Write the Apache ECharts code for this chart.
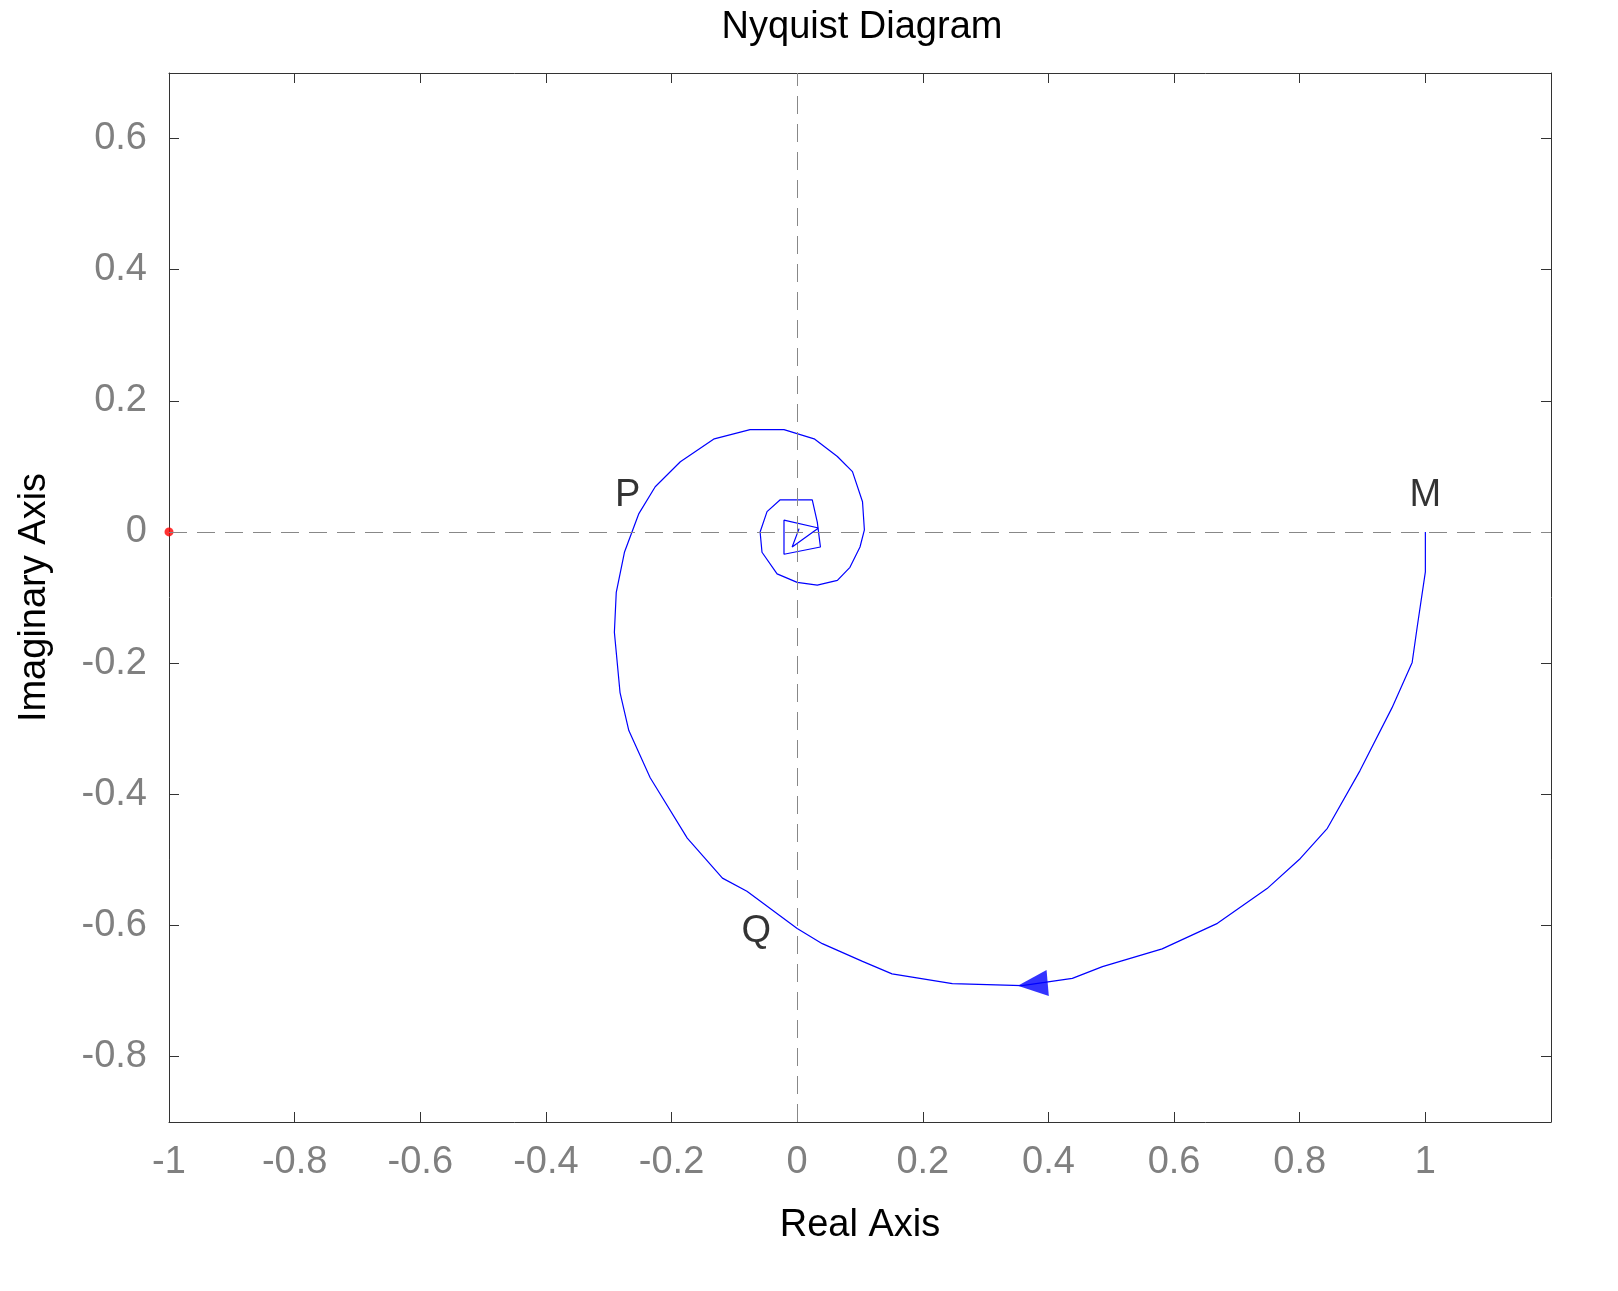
<!DOCTYPE html>
<html>
<head>
<meta charset="utf-8">
<script src="https://cdn.jsdelivr.net/npm/echarts@6/dist/echarts.min.js"></script>
<style>html,body{margin:0;padding:0;background:#fff}#main{width:1618px;height:1291px}</style>
</head>
<body>
<div id="main"></div>
<script>
// Nyquist curve (re, im)
const curveRe = [1, 1, 0.987, 0.979, 0.947, 0.896, 0.844, 0.801, 0.748, 0.669, 0.581, 0.486, 0.438, 0.358, 0.247, 0.151, 0.104, 0.040, 0, -0.080, -0.119, -0.175, -0.234, -0.268, -0.282, -0.291, -0.288, -0.275, -0.252, -0.226, -0.186, -0.132, -0.075, -0.021, 0.027, 0.064, 0.088, 0.104, 0.107, 0.1, 0.084, 0.064, 0.032, 0, -0.032, -0.056, -0.059, -0.048, -0.027, 0.024, 0.032, 0.037, -0.021, -0.021, 0.034, -0.008, 0.003];
const curveIm = [0, -0.061, -0.145, -0.199, -0.268, -0.364, -0.452, -0.498, -0.544, -0.597, -0.636, -0.663, -0.681, -0.692, -0.689, -0.674, -0.655, -0.628, -0.605, -0.548, -0.528, -0.467, -0.375, -0.303, -0.245, -0.153, -0.092, -0.031, 0.028, 0.069, 0.107, 0.142, 0.156, 0.156, 0.142, 0.115, 0.092, 0.046, 0.003, -0.023, -0.054, -0.074, -0.081, -0.077, -0.064, -0.031, 0, 0.031, 0.049, 0.049, 0.015, -0.023, -0.034, 0.018, 0.006, -0.023, 0.005];
const xTicks = [-1, -0.8, -0.6, -0.4, -0.2, 0, 0.2, 0.4, 0.6, 0.8, 1];
const yTicks = [-0.8, -0.6, -0.4, -0.2, 0, 0.2, 0.4, 0.6];
const pointLabels = [['M', 1, 0.055], ['P', -0.27, 0.055], ['Q', -0.065, -0.61]];
const arrowPos = [0.375, -0.69];

const chart = echarts.init(document.getElementById('main'));
const fmt = v => String(Math.round(v * 10) / 10);
const lbl = {color: '#808080', fontSize: 38, fontFamily: 'Arial, Liberation Sans', margin: 22};
const tick = {inside: true, length: 10, lineStyle: {color: '#333'}};
const line = {show: true, onZero: false, lineStyle: {color: '#333', width: 1}};

chart.setOption({
  animation: false,
  title: {text: 'Nyquist Diagram', left: 857, top: 4, textAlign: 'center',
    textStyle: {fontSize: 38, fontWeight: 'normal', color: '#000', fontFamily: 'Arial, Liberation Sans'}},
  grid: {left: 169, right: 67, top: 73, bottom: 169},
  xAxis: [
    {type: 'value', min: -1, max: 1.2, axisLine: line, splitLine: {show: false},
      axisTick: Object.assign({customValues: xTicks}, tick),
      axisLabel: Object.assign({customValues: xTicks, formatter: fmt}, lbl),
      name: 'Real Axis', nameLocation: 'middle', nameGap: 85,
      nameTextStyle: {fontSize: 38, color: '#000', fontFamily: 'Arial, Liberation Sans'}},
    {type: 'value', position: 'top', min: -1, max: 1.2, axisLine: line, splitLine: {show: false},
      axisTick: Object.assign({customValues: xTicks}, tick), axisLabel: {show: false}}
  ],
  yAxis: [
    {type: 'value', min: -0.9, max: 0.7, axisLine: line, splitLine: {show: false},
      axisTick: Object.assign({customValues: yTicks}, tick),
      axisLabel: Object.assign({customValues: yTicks, formatter: fmt}, lbl),
      name: 'Imaginary Axis', nameLocation: 'middle', nameGap: 115,
      nameTextStyle: {fontSize: 38, color: '#000', fontFamily: 'Arial, Liberation Sans'}},
    {type: 'value', position: 'right', min: -0.9, max: 0.7, axisLine: line, splitLine: {show: false},
      axisTick: Object.assign({customValues: yTicks}, tick), axisLabel: {show: false}}
  ],
  series: [
    {type: 'line', data: curveRe.map((x, i) => [x, curveIm[i]]), showSymbol: false,
      lineStyle: {color: '#0000ff', width: 1.2},
      markLine: {silent: true, symbol: 'none', label: {show: false},
        lineStyle: {color: '#888', type: [18, 10], width: 1},
        data: [{xAxis: 0}, {yAxis: 0}]}},
    {type: 'scatter', data: [arrowPos], symbol: 'triangle', symbolSize: [26, 30], symbolRotate: 95,
      itemStyle: {color: '#0000ff'}},
    {type: 'scatter', data: [[-1, 0]], symbolSize: 9, itemStyle: {color: '#ff0000'}},
    {type: 'scatter', data: pointLabels.map(p => [p[1], p[2], p[0]]), symbolSize: 0,
      label: {show: true, formatter: p => p.data[2], fontSize: 38, color: '#000', position: 'inside',
        fontFamily: 'Arial, Liberation Sans'}}
  ]
});
</script>
</body>
</html>
